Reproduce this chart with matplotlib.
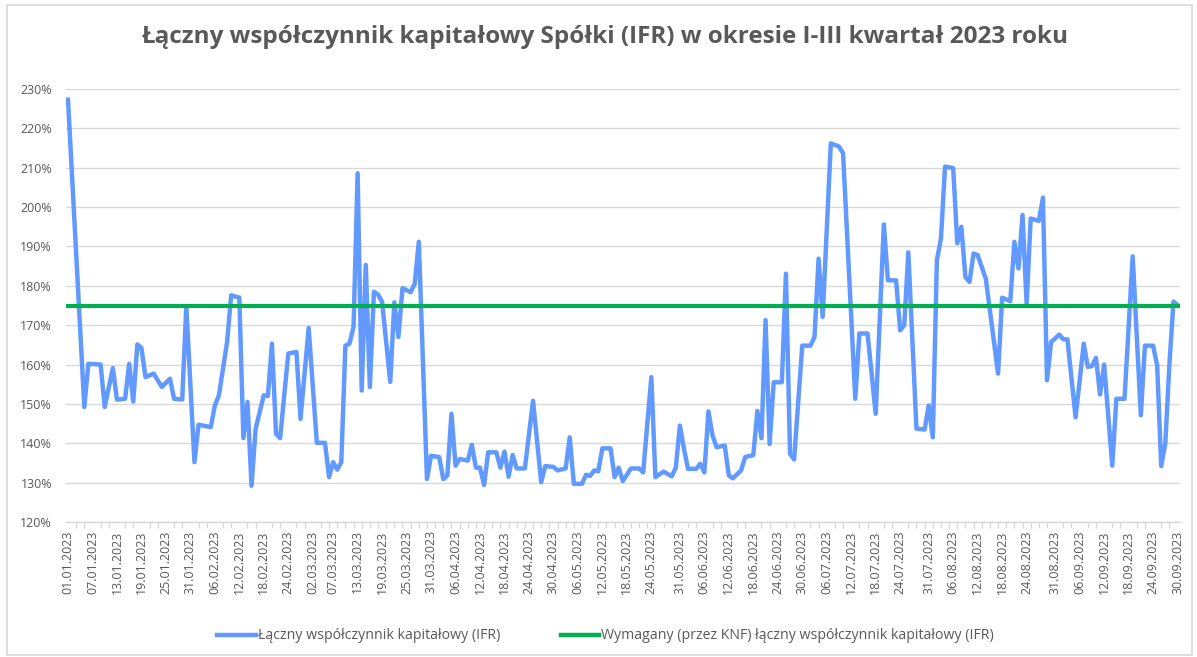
import datetime as dt
import matplotlib
matplotlib.use("Agg")
import matplotlib.pyplot as plt
import matplotlib.dates as mdates
from matplotlib.patches import Rectangle
from matplotlib.lines import Line2D

# ---- data ----
dates = ["01.01", "05.01", "06.01", "09.01", "10.01", "12.01", "13.01", "15.01", "16.01", "17.01",
         "18.01", "19.01", "20.01", "22.01", "24.01", "26.01", "27.01", "29.01", "30.01", "01.02",
         "02.02", "05.02", "06.02", "07.02", "09.02", "10.02", "12.02", "13.02", "14.02", "15.02",
         "16.02", "18.02", "19.02", "20.02", "21.02", "22.02", "24.02", "26.02", "27.02", "01.03",
         "03.03", "05.03", "06.03", "07.03", "08.03", "09.03", "10.03", "11.03", "12.03", "13.03",
         "14.03", "15.03", "16.03", "17.03", "18.03", "19.03", "21.03", "22.03", "23.03", "24.03",
         "26.03", "27.03", "28.03", "30.03", "31.03", "02.04", "03.04", "04.04", "05.04", "06.04",
         "07.04", "09.04", "10.04", "11.04", "12.04", "13.04", "14.04", "16.04", "17.04", "18.04",
         "19.04", "20.04", "21.04", "23.04", "25.04", "27.04", "28.04", "30.04", "01.05", "03.05",
         "04.05", "05.05", "07.05", "08.05", "09.05", "10.05", "11.05", "12.05", "14.05", "15.05",
         "16.05", "17.05", "19.05", "21.05", "22.05", "24.05", "25.05", "27.05", "29.05", "30.05",
         "31.05", "01.06", "02.06", "04.06", "05.06", "06.06", "07.06", "08.06", "09.06", "11.06",
         "12.06", "13.06", "15.06", "16.06", "18.06", "19.06", "20.06", "21.06", "22.06", "23.06",
         "25.06", "26.06", "27.06", "28.06", "30.06", "02.07", "03.07", "04.07", "05.07", "07.07",
         "09.07", "10.07", "13.07", "14.07", "16.07", "18.07", "20.07", "21.07", "23.07", "24.07",
         "25.07", "26.07", "28.07", "30.07", "31.07", "01.08", "02.08", "03.08", "04.08", "06.08",
         "07.08", "08.08", "09.08", "10.08", "11.08", "12.08", "14.08", "17.08", "18.08", "20.08",
         "21.08", "22.08", "23.08", "24.08", "25.08", "27.08", "28.08", "29.08", "30.08", "01.09",
         "02.09", "03.09", "05.09", "07.09", "08.09", "09.09", "10.09", "11.09", "12.09", "14.09",
         "15.09", "17.09", "19.09", "21.09", "22.09", "24.09", "25.09", "26.09", "27.09", "28.09",
         "29.09", "30.09"]

ifr = [227.3, 149.2, 160.2, 160.0, 149.2, 159.1, 151.1, 151.3, 160.2, 150.6,
       165.1, 164.2, 156.8, 157.7, 154.3, 156.4, 151.3, 151.1, 174.7, 135.2,
       144.7, 144.1, 149.6, 152.2, 165.7, 177.6, 177.0, 141.3, 150.5, 129.2,
       143.7, 152.2, 152.0, 165.3, 142.4, 141.3, 162.8, 163.2, 146.2, 169.3,
       140.1, 140.1, 131.4, 135.2, 133.3, 135.2, 164.8, 165.3, 169.5, 208.6,
       153.4, 185.3, 154.3, 178.5, 177.8, 175.9, 155.6, 175.8, 167.0, 179.4,
       178.4, 180.5, 191.2, 130.9, 136.8, 136.5, 130.9, 131.8, 147.5, 134.3,
       136.0, 135.6, 139.6, 133.8, 133.8, 129.4, 137.7, 137.7, 133.8, 137.9,
       131.5, 137.0, 133.6, 133.6, 150.8, 130.1, 134.2, 134.0, 133.1, 133.6,
       141.5, 129.7, 129.7, 132.0, 131.7, 133.1, 132.9, 138.7, 138.7, 131.4,
       133.8, 130.4, 133.6, 133.6, 132.6, 156.8, 131.4, 132.8, 131.6, 133.8,
       144.5, 138.6, 133.5, 133.5, 134.8, 132.6, 148.1, 142.0, 139.0, 139.4,
       131.8, 131.1, 133.1, 136.5, 137.0, 148.2, 141.3, 171.3, 139.8, 155.5,
       155.5, 183.1, 137.3, 135.9, 164.8, 164.8, 167.0, 186.9, 172.1, 216.2,
       215.4, 213.7, 151.3, 167.9, 167.9, 147.5, 195.6, 181.4, 181.4, 168.7,
       170.0, 188.5, 143.7, 143.5, 149.6, 141.5, 186.5, 192.0, 210.3, 209.9,
       190.8, 195.0, 182.2, 181.0, 188.2, 187.8, 181.8, 157.7, 177.0, 176.1,
       191.2, 184.4, 198.0, 175.3, 197.1, 196.5, 202.4, 156.0, 165.7, 167.6,
       166.4, 166.4, 146.6, 165.3, 159.4, 159.6, 161.7, 152.4, 160.0, 134.3,
       151.3, 151.3, 187.5, 147.1, 164.8, 164.8, 159.8, 134.2, 140.0, 160.0,
       176.0, 175.1]

required = 175.0

tick_labels = ["01.01.2023", "07.01.2023", "13.01.2023", "19.01.2023", "25.01.2023", "31.01.2023",
               "06.02.2023", "12.02.2023", "18.02.2023", "24.02.2023", "02.03.2023", "07.03.2023",
               "13.03.2023", "19.03.2023", "25.03.2023", "31.03.2023", "06.04.2023", "12.04.2023",
               "18.04.2023", "24.04.2023", "30.04.2023", "06.05.2023", "12.05.2023", "18.05.2023",
               "24.05.2023", "31.05.2023", "06.06.2023", "12.06.2023", "18.06.2023", "24.06.2023",
               "30.06.2023", "06.07.2023", "12.07.2023", "18.07.2023", "24.07.2023", "31.07.2023",
               "06.08.2023", "12.08.2023", "18.08.2023", "24.08.2023", "31.08.2023", "06.09.2023",
               "12.09.2023", "18.09.2023", "24.09.2023", "30.09.2023"]

title = "Łączny współczynnik kapitałowy Spółki (IFR) w okresie I-III kwartał 2023 roku"
label_ifr = "Łączny współczynnik kapitałowy (IFR)"
label_req = "Wymagany (przez KNF) łączny współczynnik kapitałowy (IFR)"

# ---- build ----
def to_date(s):
    d, m = s.split(".")[:2]
    return dt.date(2023, int(m), int(d))

x = [to_date(s) for s in dates]
tick_dates = [to_date(s) for s in tick_labels]
start, end = dt.date(2023, 1, 1), dt.date(2023, 9, 30)

plt.rcParams['font.family'] = ['Open Sans', 'DejaVu Sans']
grey = "#595959"

fig = plt.figure(figsize=(11.97, 6.57), dpi=100)
fig.patches.append(Rectangle((0.006, 0.003), 0.99, 0.99, transform=fig.transFigure,
                             fill=False, edgecolor="#d9d9d9", linewidth=1.2))

ax = fig.add_axes([0.0551, 0.2055, 0.9307, 0.659])
ax.plot(x, ifr, color="#6199FF", lw=3.2, solid_joinstyle="round", zorder=3)
ax.plot([start - dt.timedelta(days=0.5), end + dt.timedelta(days=0.5)], [required, required],
        color="#00B050", lw=3.0, zorder=4)

ax.set_ylim(120, 230)
ax.set_yticks(range(120, 231, 10))
ax.set_yticklabels([f"{v}%" for v in range(120, 231, 10)], color=grey, fontsize=9)
ax.set_xlim(mdates.date2num(start) - 0.5, mdates.date2num(end) + 0.6)

ax.set_xticks(tick_dates)
ax.set_xticklabels(tick_labels, rotation=90, color=grey, fontsize=9)
minor = [start + dt.timedelta(days=i) for i in range(0, 274, 2)]
ax.set_xticks(minor, minor=True)
ax.tick_params(axis="x", which="major", length=0, pad=6)
ax.tick_params(axis="x", which="minor", length=4, color="#d9d9d9", width=0.9)
ax.tick_params(axis="y", length=0, pad=10)

ax.grid(axis="y", color="#d9d9d9", lw=1.0, zorder=0)
for s in ["top", "right", "left"]:
    ax.spines[s].set_visible(False)
ax.spines["bottom"].set_color("#d9d9d9")
ax.spines["bottom"].set_linewidth(1.0)

fig.text(0.505, 0.943, title, ha="center", va="center", fontsize=17.5,
         fontweight="bold", color=grey)

handles = [Line2D([], [], color="#6199FF", lw=3.2), Line2D([], [], color="#00B050", lw=3.2)]
fig.legend(handles, [label_ifr, label_req], loc="center", bbox_to_anchor=(0.506, 0.032),
           ncol=2, frameon=False, fontsize=10.2, labelcolor=grey, handlelength=2.7,
           handletextpad=0.15, columnspacing=4.3)

fig.savefig("out.png", dpi=100)
